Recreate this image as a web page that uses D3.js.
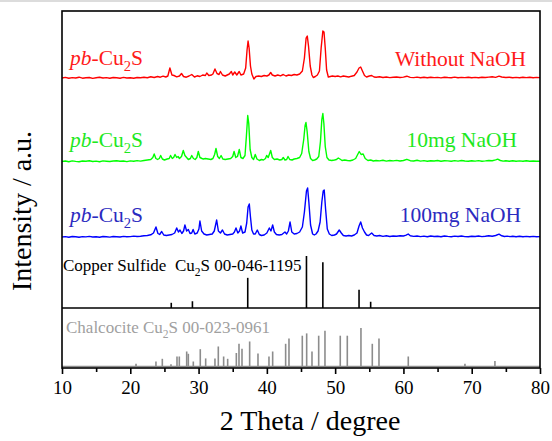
<!DOCTYPE html>
<html>
<head>
<meta charset="utf-8">
<script src="https://cdn.jsdelivr.net/npm/d3@7"></script>
<style>
  body { margin: 0; background: #fff; }
  svg { display: block; }
  text { font-family: 'Liberation Serif', 'Times New Roman', serif; }
</style>
</head>
<body>
<div id="chart"></div>
<script>
// XRD patterns, [2theta, intensity a.u.]
const withoutNaOH = [
  [10,0],[10.5,0.6],[11,-0.3],[11.5,0.4],[12,0],[12.5,0.8],[13,-0.2],[13.5,0.3],[14,0.5],[14.5,-0.4],
  [15,0.2],[15.5,0.7],[16,0],[16.5,0.4],[17,-0.3],[17.5,0.5],[18,0.2],[18.5,-0.2],[19,0.6],[19.5,0],
  [20,0.3],[20.5,-0.3],[21,0.5],[21.5,0.2],[22,0.8],[22.5,0.3],[23,1.2],[23.5,0.5],[24,1.5],[24.4,0.8],
  [24.8,1.8],[25.2,1],[25.5,2],[25.8,10],[26.1,3],[26.4,2.5],[26.8,1.2],[27.2,2],[27.5,4.5],[27.8,1.5],
  [28.2,0.8],[28.6,2],[29,3.5],[29.4,1],[29.8,2.2],[30.2,1.5],[30.6,3],[31,2.5],[31.2,5],[31.5,2.5],
  [31.9,3],[32.1,4],[32.4,9],[32.7,4.5],[33,3.5],[33.2,6.5],[33.5,3],[33.9,2],[34.2,3],[34.5,4],
  [34.8,6.5],[35,3],[35.3,6],[35.6,3],[35.95,6.5],[36.2,3],[36.6,4],[36.9,10],[37.1,28],[37.25,37],
  [37.4,30],[37.6,12],[37.8,4],[38.1,-1],[38.4,1.5],[38.8,2],[39.2,1.5],[39.6,2.5],[40,2],[40.3,3],
  [40.56,5.5],[40.8,3],[41.2,2],[41.6,3],[42,2.2],[42.4,3.5],[42.8,2],[43.2,3],[43.6,2.5],[44,3.5],
  [44.4,3],[44.8,4],[45.2,7],[45.5,20],[45.75,40],[45.92,42],[46.1,32],[46.35,12],[46.6,3],[46.8,0.5],
  [47.1,1.5],[47.4,3],[47.7,7],[47.95,30],[48.2,47],[48.37,46],[48.55,30],[48.75,8],[49,1],[49.3,1.5],
  [49.6,2],[50,1.5],[50.4,2],[50.8,1.2],[51.2,2],[51.6,1.5],[52,1],[52.4,1.8],[52.8,2.5],[53.2,6],
  [53.5,10],[53.74,11],[54,7],[54.3,2.5],[54.6,1],[55,2],[55.35,2.5],[55.7,1],[56,0.8],[56.5,1.2],
  [57,0.5],[57.5,1],[58,0.4],[58.5,0.8],[59,1],[59.5,0.5],[60,0.9],[60.5,1.8],[61,0.6],[61.5,0.4],
  [62,0.9],[62.5,0.3],[63,0.7],[63.5,0.2],[64,0.8],[64.5,0.4],[65,0.6],[65.5,0.1],[66,0.8],[66.5,0.5],
  [67,0.3],[67.5,0.9],[68,0.2],[68.5,0.6],[69,0.4],[69.5,0.8],[70,0.3],[70.5,0.6],[71,0.2],[71.5,0.7],
  [72,0.5],[72.5,0.9],[73,1.2],[73.5,0.6],[74,1.8],[74.4,1],[75,0.5],[75.5,0.8],[76,0.3],[76.5,0.6],
  [77,0.2],[77.5,0.7],[78,0.4],[78.5,0.8],[79,0.3],[79.5,0.6],[80,0.4]
];

const naoh10mg = [
  [10,0],[10.5,0.5],[11,-0.2],[11.5,0.6],[12,0.1],[12.5,-0.3],[13,0.5],[13.5,0.2],[14,0.7],[14.5,0],
  [15,0.4],[15.5,-0.2],[16,0.6],[16.5,0.3],[17,0],[17.5,0.5],[18,0.8],[18.5,0.2],[19,0.5],[19.5,-0.1],
  [20,0.6],[20.5,0.2],[21,0.9],[21.5,0.4],[22,1],[22.5,1.5],[23,2],[23.3,4],[23.5,7.5],[23.75,3],
  [24,2],[24.25,3],[24.45,6],[24.7,2.5],[25,1.5],[25.4,2.5],[25.7,3],[25.9,6],[26.15,3],[26.35,4],
  [26.55,7],[26.8,4],[27,5],[27.2,3],[27.5,5],[27.76,11],[28,6],[28.25,4],[28.5,2],[28.8,3],
  [29,6],[29.25,3],[29.5,2],[29.75,4],[29.96,10],[30.2,4],[30.5,3],[30.7,2.5],[31,3],[31.4,2.5],
  [31.8,2],[32.1,3],[32.35,7],[32.55,13],[32.8,5],[33.05,3],[33.3,6],[33.55,2.5],[33.9,2],[34.3,2.5],
  [34.7,3],[35,5],[35.2,10],[35.45,4],[35.7,5],[35.96,12],[36.2,4],[36.5,3],[36.8,6],[37,25],
  [37.2,46],[37.35,38],[37.55,12],[37.8,4],[38.05,2],[38.3,7],[38.55,2.5],[38.9,1],[39.2,2],[39.5,1.5],
  [39.8,3],[39.97,6],[40.2,4],[40.56,11],[40.8,4],[41.1,2],[41.5,2.5],[41.9,1.5],[42.2,2],[42.4,4],
  [42.65,1.5],[42.9,2],[43.1,5],[43.35,2],[43.7,1.5],[44,2.5],[44.4,3],[44.8,4],[45.1,8],[45.4,22],
  [45.6,36],[45.73,39],[45.9,30],[46.15,10],[46.4,3],[46.7,1],[47,1.5],[47.3,2.5],[47.6,5],[47.85,20],
  [48.05,42],[48.2,48],[48.35,38],[48.55,15],[48.8,4],[49.1,1.5],[49.5,1],[49.9,1.5],[50.2,2],[50.46,3.5],
  [50.7,2.5],[51,1],[51.4,1.5],[51.8,1],[52.2,0.8],[52.6,1.5],[53,3],[53.3,7],[53.53,10],[53.8,7],
  [54.1,7.5],[54.4,3],[54.8,1],[55.2,1.5],[55.6,0.5],[56,1],[56.5,0.6],[57,1.2],[57.5,0.4],[58,1],
  [58.5,0.6],[59,1.1],[59.5,0.5],[60,1],[60.5,2.2],[61,0.8],[61.5,0.5],[62,1.2],[62.5,0.4],[63,0.9],
  [63.5,0.2],[64,0.8],[64.5,0.5],[65,1],[65.5,0.3],[66,0.8],[66.5,0.6],[67,0.2],[67.5,0.9],[68,0.4],
  [68.5,1],[69,0.5],[69.5,0.2],[70,0.8],[70.5,0.4],[71,0.9],[71.5,0.3],[72,0.6],[72.5,1],[73,0.8],
  [73.5,1.6],[73.8,2.3],[74.2,1],[74.6,0.4],[75,0.8],[75.5,0.3],[76,0.7],[76.5,0.2],[77,0.6],[77.5,0.3],
  [78,0.8],[78.5,0.2],[79,0.5],[79.5,0.3],[80,0.2]
];

const naoh100mg = [
  [10,0],[10.5,0.4],[11,-0.2],[11.5,0.5],[12,0.2],[12.5,-0.3],[13,0.4],[13.5,0.1],[14,0.6],[14.5,0],
  [15,0.3],[15.5,-0.2],[16,0.5],[16.5,0.2],[17,-0.1],[17.5,0.5],[18,0.3],[18.5,0],[19,0.6],[19.5,0.2],
  [20,0.4],[20.5,0.9],[21,0.5],[21.5,0.8],[22,1.2],[22.5,1.5],[23,2.2],[23.4,4],[23.76,10],[24.05,3.5],
  [24.3,2.5],[24.6,5.5],[24.9,2],[25.3,1.5],[25.7,2],[26.1,2.5],[26.5,4],[26.8,9],[27.05,5],[27.28,7],
  [27.55,3.5],[27.8,6],[28,12],[28.25,6],[28.5,7.5],[28.75,3.5],[29,4],[29.2,7.5],[29.45,3],[29.8,4],
  [30.05,8],[30.2,16],[30.45,6],[30.8,3],[31.2,2],[31.6,2.5],[32,3],[32.3,6],[32.65,17],[32.9,6],
  [33.2,4],[33.5,7],[33.8,3],[34.2,2],[34.6,2.5],[35,3],[35.25,5],[35.48,9],[35.75,4],[36,6],
  [36.2,11],[36.45,4],[36.8,5],[37.05,14],[37.25,30],[37.43,33],[37.6,20],[37.8,7],[38.05,3],[38.3,3],
  [38.6,7],[38.9,2.5],[39.2,1.5],[39.6,2],[40,4],[40.36,9],[40.6,6],[40.85,12],[41.1,5],[41.4,2.5],
  [41.8,2],[42.2,2.5],[42.65,5],[42.9,3],[43.15,6],[43.4,15],[43.65,5],[44,3],[44.4,3.5],[44.8,5],
  [45.2,10],[45.5,25],[45.8,46],[45.97,49],[46.15,35],[46.4,12],[46.7,3],[46.95,2],[47.2,3],[47.5,6],
  [47.8,15],[48.05,35],[48.25,46],[48.4,47],[48.6,28],[48.85,8],[49.15,3],[49.5,1.5],[49.9,2],[50.2,3],
  [50.6,7],[50.9,4],[51.2,1.5],[51.6,1],[52,1.5],[52.4,1],[52.8,2],[53.2,4],[53.5,11],[53.74,15],
  [54,9],[54.3,5],[54.6,2],[54.9,1.5],[55.35,4],[55.7,1.5],[56.1,1],[56.5,1.5],[57,0.6],[57.5,1.2],
  [58,0.5],[58.5,1],[59,0.7],[59.5,1.2],[60,1],[60.4,1.8],[60.7,3],[61,1.2],[61.5,0.6],[62,1],
  [62.5,0.4],[63,0.9],[63.5,0.3],[64,1],[64.5,0.5],[65,0.8],[65.5,0.2],[66,1],[66.5,0.6],[67,0.3],
  [67.5,0.9],[68,0.5],[68.5,1],[69,0.4],[69.5,0.2],[70,0.8],[70.5,0.5],[71,1],[71.5,0.4],[72,0.7],
  [72.5,1.2],[73,0.8],[73.5,1.5],[74,2.8],[74.4,1.2],[74.8,0.5],[75.2,0.9],[75.6,0.4],[76,0.8],[76.5,0.3],
  [77,0.7],[77.5,0.2],[78,0.6],[78.5,0.3],[79,0.6],[79.5,0.2],[80,0.4]
];

// reference cards, [2theta, relative intensity]
const copperSulfide = [[26.0,10],[29.1,13],[37.2,58],[45.8,100],[48.2,88],[53.5,35],[55.2,12]];
const chalcocite = [
  [20.84,7],[23.76,13],[24.69,20],[25.96,6],[26.84,26],[27.18,26],[28.26,39],[28.5,33],[29.23,13],
  [30.25,45],[31.04,21],[32.4,21],[32.89,52],[33.67,26],[34.26,20],[35.53,35],[35.92,59],[36.36,46],
  [37.48,65],[38.7,34],[40.31,26],[40.85,39],[42.75,59],[43.24,73],[45.19,80],[45.83,86],[46.61,39],
  [47.59,80],[48.51,93],[50.75,80],[51.78,80],[53.78,100],[55.44,59],[56.42,73],[60.71,26],[69.01,7],[73.4,14]
];

const majorTicks = [10, 20, 30, 40, 50, 60, 70, 80];
const minorTicks = [15, 25, 35, 45, 55, 65, 75];

const sampleNames = ['Without NaOH', '10mg NaOH', '100mg NaOH'];

const W = 552, H = 441;
const mLeft = 62, mRight = 540, mTop = 11, mBottom = 368;

const svg = d3.select('#chart').append('svg')
  .attr('width', W).attr('height', H);

svg.append('rect').attr('x', 0).attr('y', 0).attr('width', W).attr('height', 2).attr('fill', '#dcdcdc');

const x = d3.scaleLinear().domain([10, 80]).range([mLeft, mRight]);
// 1 a.u. == 1px so the stacked offsets read the same as the picture
const y = d3.scaleLinear().domain([0, mBottom - mTop]).range([mBottom, mTop]);

svg.append('clipPath').attr('id', 'plot')
  .append('rect').attr('x', mLeft).attr('y', mTop).attr('width', mRight - mLeft).attr('height', mBottom - mTop);

const series = [
  {data: withoutNaOH, off: 290,   color: '#ff0000', text: '#ff1a1a', name: sampleNames[0], lx: 70, ly: 65,  nx: 526, ny: 66},
  {data: naoh10mg,    off: 206.5, color: '#00ff00', text: '#1ee81e', name: sampleNames[1], lx: 70, ly: 147, nx: 517, ny: 147},
  {data: naoh100mg,   off: 131,   color: '#0000ff', text: '#2b2bc0', name: sampleNames[2], lx: 70, ly: 222, nx: 521, ny: 222}
];

const plot = svg.append('g').attr('clip-path', 'url(#plot)');

series.forEach(s => {
  const line = d3.line()
    .x(d => x(d[0]))
    .y(d => y(d[1] + s.off));
  plot.append('path')
    .datum(s.data)
    .attr('fill', 'none')
    .attr('stroke', s.color)
    .attr('stroke-width', 1.4)
    .attr('stroke-linejoin', 'round')
    .attr('d', line);
});

// stick patterns
const cuBase = 60, cuMax = 52;
const chBase = 1.5, chMax = 38.5;

plot.selectAll('line.cu').data(copperSulfide).enter().append('line')
  .attr('class', 'cu')
  .attr('x1', d => x(d[0])).attr('x2', d => x(d[0]))
  .attr('y1', y(cuBase)).attr('y2', d => y(cuBase + d[1] / 100 * cuMax))
  .attr('stroke', '#000').attr('stroke-width', 1.6);

plot.selectAll('line.ch').data(chalcocite).enter().append('line')
  .attr('class', 'ch')
  .attr('x1', d => x(d[0])).attr('x2', d => x(d[0]))
  .attr('y1', y(chBase)).attr('y2', d => y(chBase + d[1] / 100 * chMax))
  .attr('stroke', '#8c8c8c').attr('stroke-width', 1.6);

svg.append('line')
  .attr('x1', mLeft).attr('x2', mRight).attr('y1', y(cuBase)).attr('y2', y(cuBase))
  .attr('stroke', '#000').attr('stroke-width', 1.6);
svg.append('line')
  .attr('x1', mLeft).attr('x2', mRight).attr('y1', y(chBase)).attr('y2', y(chBase))
  .attr('stroke', '#8c8c8c').attr('stroke-width', 1.6);

// labels with italic / subscript parts
function label(g, px, py, parts, size, color, anchor) {
  const t = g.append('text')
    .attr('x', px).attr('y', py)
    .attr('fill', color)
    .attr('text-anchor', anchor || 'start')
    .style('font-size', size + 'px')
    .style('white-space', 'pre');
  parts.forEach(p => {
    const sp = t.append('tspan').text(p.t);
    if (p.i) sp.style('font-style', 'italic');
    if (p.sub) {
      sp.style('font-size', (size * 0.68) + 'px').attr('dy', size * 0.28);
    } else if (p.after) {
      sp.attr('dy', -size * 0.28);
    }
  });
  return t;
}

const pbParts = [{t: 'pb', i: true}, {t: '-Cu'}, {t: '2', sub: true}, {t: 'S', after: true}];
series.forEach(s => {
  label(svg, s.lx, s.ly, pbParts, 21.5, s.text);
  label(svg, s.nx, s.ny, [{t: s.name}], 21.5, s.text, 'end');
});

label(svg, 63, 271, [{t: 'Copper Sulfide  Cu'}, {t: '2', sub: true}, {t: 'S 00-046-1195', after: true}], 17, '#000');
label(svg, 66, 333, [{t: 'Chalcocite Cu'}, {t: '2', sub: true}, {t: 'S 00-023-0961', after: true}], 17, '#a0a0a0');

// frame + axis
svg.append('rect')
  .attr('x', mLeft).attr('y', mTop).attr('width', mRight - mLeft).attr('height', mBottom - mTop)
  .attr('fill', 'none').attr('stroke', '#000').attr('stroke-width', 1.6);

const axis = svg.append('g')
  .attr('transform', `translate(0,${mBottom})`)
  .call(d3.axisBottom(x).tickValues(majorTicks).tickSize(6).tickPadding(7).tickFormat(d3.format('d')));
axis.select('.domain').remove();
axis.selectAll('line').attr('stroke-width', 1.6);
axis.selectAll('text')
  .style('font-family', "'Liberation Serif', 'Times New Roman', serif")
  .style('font-size', '19px').attr('fill', '#000');

const minor = svg.append('g')
  .attr('transform', `translate(0,${mBottom})`)
  .call(d3.axisBottom(x).tickValues(minorTicks).tickSize(4).tickFormat(''));
minor.select('.domain').remove();
minor.selectAll('line').attr('stroke-width', 1.6);

svg.append('text')
  .attr('x', 310).attr('y', 430)
  .attr('text-anchor', 'middle')
  .style('font-size', '28px')
  .text('2 Theta / degree');

svg.append('text')
  .attr('transform', 'translate(31,211) rotate(-90)')
  .attr('text-anchor', 'middle')
  .style('font-size', '28px')
  .text('Intensity / a.u.');
</script>
</body>
</html>
